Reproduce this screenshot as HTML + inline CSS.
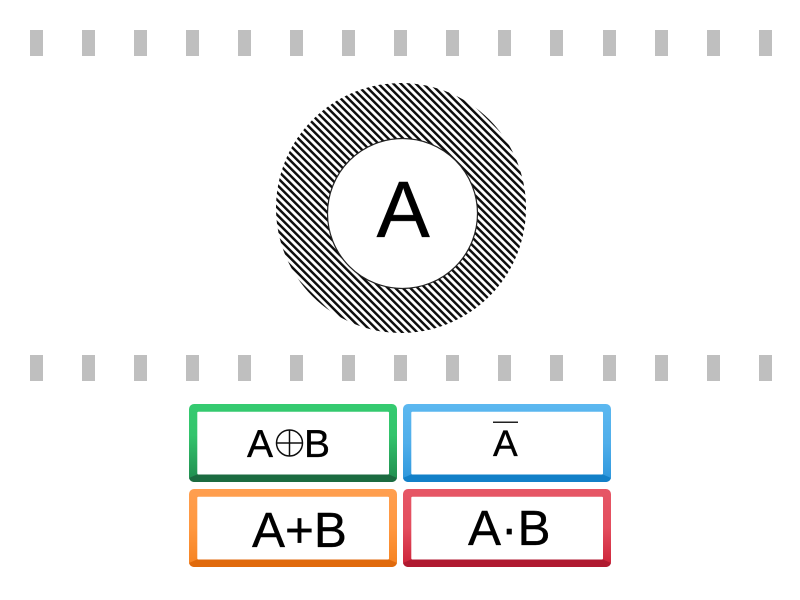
<!DOCTYPE html>
<html>
<head>
<meta charset="utf-8">
<style>
html,body{margin:0;padding:0;background:#fff;width:800px;height:600px;overflow:hidden}
svg{display:block}
text{font-family:"Liberation Sans",Arial,sans-serif;fill:#000;stroke:#000;stroke-width:.35px;text-rendering:geometricPrecision}
</style>
</head>
<body>
<svg width="800" height="600" viewBox="0 0 800 600" xmlns="http://www.w3.org/2000/svg">
<defs>
<pattern id="h" width="5.300" height="5.300" patternUnits="userSpaceOnUse" patternTransform="rotate(-45 401 208)">
<rect width="5.300" height="5.300" fill="#fff"/>
<rect x="0" y="0" width="2.450" height="5.300" fill="#0c0c0c"/>
</pattern>
<filter id="s" x="-5%" y="-5%" width="110%" height="110%"><feGaussianBlur stdDeviation="0.3"/></filter>
<linearGradient id="g" x1="0" y1="0" x2="0" y2="1"><stop offset="0" stop-color="#35cb70"/><stop offset="0.4" stop-color="#33c46c"/><stop offset="1" stop-color="#1f8a4e"/></linearGradient>
<linearGradient id="b" x1="0" y1="0" x2="0" y2="1"><stop offset="0" stop-color="#5cb8f0"/><stop offset="0.5" stop-color="#50aeea"/><stop offset="1" stop-color="#2b96dc"/></linearGradient>
<linearGradient id="o" x1="0" y1="0" x2="0" y2="1"><stop offset="0" stop-color="#ff9f50"/><stop offset="0.5" stop-color="#ff973f"/><stop offset="1" stop-color="#f58220"/></linearGradient>
<linearGradient id="r" x1="0" y1="0" x2="0" y2="1"><stop offset="0" stop-color="#e65766"/><stop offset="0.5" stop-color="#e34d5e"/><stop offset="1" stop-color="#cc2238"/></linearGradient>
</defs>

<g fill="#bfbfbf">
<rect x="30" y="30" width="13" height="26"/><rect x="82" y="30" width="13" height="26"/><rect x="134" y="30" width="13" height="26"/><rect x="186" y="30" width="13" height="26"/><rect x="238" y="30" width="13" height="26"/><rect x="290" y="30" width="13" height="26"/><rect x="342" y="30" width="13" height="26"/><rect x="394" y="30" width="13" height="26"/><rect x="446" y="30" width="13" height="26"/><rect x="498" y="30" width="13" height="26"/><rect x="550" y="30" width="13" height="26"/><rect x="603" y="30" width="13" height="26"/><rect x="655" y="30" width="13" height="26"/><rect x="707" y="30" width="13" height="26"/><rect x="759" y="30" width="13" height="26"/>
<rect x="30" y="355" width="13" height="26"/><rect x="82" y="355" width="13" height="26"/><rect x="134" y="355" width="13" height="26"/><rect x="186" y="355" width="13" height="26"/><rect x="238" y="355" width="13" height="26"/><rect x="290" y="355" width="13" height="26"/><rect x="342" y="355" width="13" height="26"/><rect x="394" y="355" width="13" height="26"/><rect x="446" y="355" width="13" height="26"/><rect x="498" y="355" width="13" height="26"/><rect x="550" y="355" width="13" height="26"/><rect x="603" y="355" width="13" height="26"/><rect x="655" y="355" width="13" height="26"/><rect x="707" y="355" width="13" height="26"/><rect x="759" y="355" width="13" height="26"/>
</g>

<g filter="url(#s)">
<circle cx="401" cy="208" r="125" fill="url(#h)"/>
<circle cx="402.500" cy="213.500" r="75" fill="#fff" stroke="#222" stroke-width="1.200"/>
<text x="376.500" y="237" font-size="80">A</text>
</g>

<rect x="189" y="404" width="208" height="78" rx="5" fill="url(#g)"/>
<path d="M197 474.500H389L397 478V477A5 5 0 0 1 392 482H194A5 5 0 0 1 189 477V478Z" fill="#1b6b40"/>
<rect x="197.300" y="411.700" width="191.700" height="62.800" rx="1" fill="#fff"/>
<g filter="url(#s)">
<text x="247" y="457" font-size="39">A</text>
<circle cx="289.500" cy="443" r="13" fill="none" stroke="#111" stroke-width="1.500"/>
<path d="M276.500 443H302.500M289.500 430V456" stroke="#111" stroke-width="1.500" fill="none"/>
<text x="304" y="457" font-size="39">B</text>
</g>

<rect x="403" y="404" width="208" height="78" rx="5" fill="url(#b)"/>
<path d="M411 474.500H603L611 478V477A5 5 0 0 1 606 482H408A5 5 0 0 1 403 477V478Z" fill="#1280c8"/>
<rect x="411.300" y="411.700" width="191.700" height="62.800" rx="1" fill="#fff"/>
<g filter="url(#s)">
<text x="493" y="456" font-size="37">A</text>
<rect x="493" y="421.500" width="25" height="1.500" fill="#222"/>
</g>

<rect x="189" y="489" width="208" height="78" rx="5" fill="url(#o)"/>
<path d="M197 559.500H389L397 563V562A5 5 0 0 1 392 567H194A5 5 0 0 1 189 562V563Z" fill="#e06a0c"/>
<rect x="197.300" y="496.700" width="191.700" height="62.800" rx="1" fill="#fff"/>
<text x="252" y="547" font-size="49.500" filter="url(#s)">A+B</text>

<rect x="403" y="489" width="208" height="78" rx="5" fill="url(#r)"/>
<path d="M411 559.500H603L611 563V562A5 5 0 0 1 606 567H408A5 5 0 0 1 403 562V563Z" fill="#b01a30"/>
<rect x="411.300" y="496.700" width="191.700" height="62.800" rx="1" fill="#fff"/>
<text x="468" y="545" font-size="49.500" filter="url(#s)">A·B</text>
</svg>
</body>
</html>
